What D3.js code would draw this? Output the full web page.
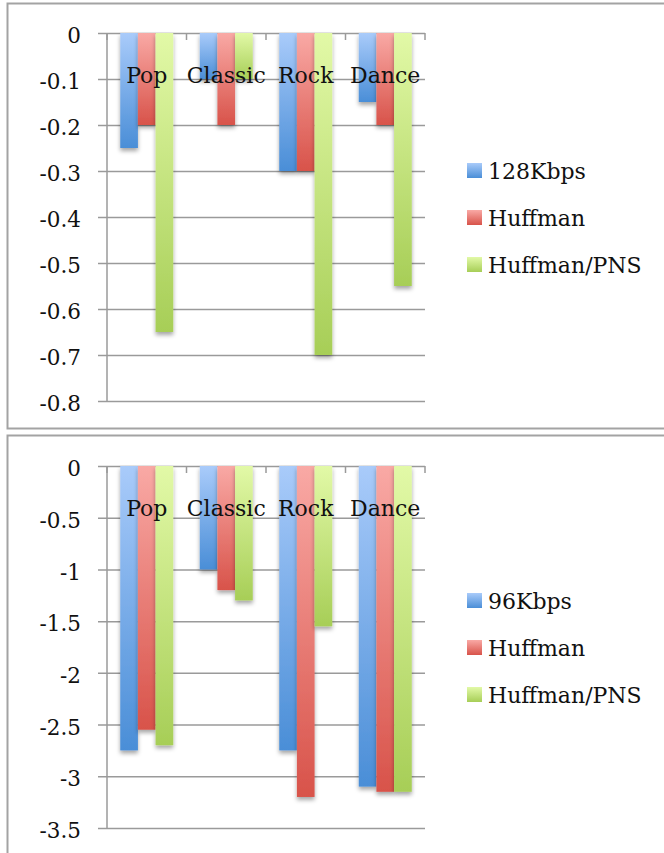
<!DOCTYPE html>
<html>
<head>
<meta charset="utf-8">
<script src="https://cdn.jsdelivr.net/npm/d3@7"></script>
<style>
  html, body { margin: 0; padding: 0; background: #fff; }
  svg { display: block; }
  text { font-family: "DejaVu Serif", "Liberation Serif", serif; fill: #111; }
</style>
</head>
<body>
<svg id="chart" width="664" height="853"></svg>
<script>
// Categories and series shared by both panels
const categories = ["Pop", "Classic", "Rock", "Dance"];
const seriesKeys = ["rate", "huffman", "pns"];

// Panel 1: 128Kbps
const topSeriesNames = ["128Kbps", "Huffman", "Huffman/PNS"];
const top128 = [-0.25, -0.1, -0.3, -0.15];
const topHuffman = [-0.2, -0.2, -0.3, -0.2];
const topPns = [-0.65, -0.1, -0.7, -0.55];
const topTicks = [0, -0.1, -0.2, -0.3, -0.4, -0.5, -0.6, -0.7, -0.8];

// Panel 2: 96Kbps
const bottomSeriesNames = ["96Kbps", "Huffman", "Huffman/PNS"];
const bottom96 = [-2.75, -1.0, -2.75, -3.1];
const bottomHuffman = [-2.55, -1.2, -3.2, -3.15];
const bottomPns = [-2.7, -1.3, -1.55, -3.15];
const bottomTicks = [0, -0.5, -1, -1.5, -2, -2.5, -3, -3.5];

const svg = d3.select("#chart");
const defs = svg.append("defs");

const gradientStops = {
  rate:    ["#a9cbfa", "#4a8ed7"],
  huffman: ["#f9a9a5", "#d8534a"],
  pns:     ["#e2f9a7", "#a7ce57"]
};
Object.entries(gradientStops).forEach(([k, [c0, c1]]) => {
  const g = defs.append("linearGradient")
    .attr("id", "grad-" + k)
    .attr("x1", 0).attr("y1", 0).attr("x2", 0).attr("y2", 1);
  g.append("stop").attr("offset", "0%").attr("stop-color", c0);
  g.append("stop").attr("offset", "100%").attr("stop-color", c1);
});

const shadow = defs.append("filter").attr("id", "barShadow")
  .attr("x", "-30%").attr("y", "-10%").attr("width", "160%").attr("height", "130%");
shadow.append("feDropShadow")
  .attr("dx", 0).attr("dy", 3).attr("stdDeviation", 2)
  .attr("flood-color", "#000").attr("flood-opacity", 0.35);

function drawPanel(cfg) {
  const g = svg.append("g");

  // panel frame
  g.append("rect")
    .attr("x", 7.5).attr("y", cfg.frameTop)
    .attr("width", 700).attr("height", cfg.frameHeight)
    .attr("fill", "none").attr("stroke", "#a3a3a3").attr("stroke-width", 2);

  const y = d3.scaleLinear().domain([0, cfg.min]).range([cfg.plotTop, cfg.plotBottom]);
  const x = d3.scaleBand().domain(categories).range([107, 425]).paddingInner(0).paddingOuter(0);
  const barW = x.bandwidth() / 4.5;
  const xs = d3.scaleBand().domain(seriesKeys)
    .range([barW * 0.75, barW * 3.75]);

  // gridlines with outward ticks; labels use a plain hyphen for negatives
  const yAxis = d3.axisLeft(y).tickValues(cfg.ticks).tickSize(-(425 - 107))
    .tickFormat(d => String(d));
  const ya = g.append("g").attr("transform", "translate(107,0)").call(yAxis);
  ya.select(".domain").remove();
  ya.selectAll(".tick line")
    .attr("x1", -9).attr("stroke", "#9a9a9a").attr("stroke-width", 1.5);
  ya.selectAll(".tick text")
    .attr("x", -26).attr("dy", "0.45em")
    .style("font-family", "'DejaVu Serif', serif").style("font-size", "21.5px").attr("fill", "#111");

  // vertical value axis line
  g.append("line")
    .attr("x1", 107).attr("x2", 107).attr("y1", y(0)).attr("y2", y(cfg.min))
    .attr("stroke", "#9a9a9a").attr("stroke-width", 1.5);

  // category tick marks along the zero line
  const xAxis = d3.axisBottom(x).tickSize(0).tickFormat("");
  const xa = g.append("g").attr("transform", `translate(0,${y(0)})`).call(xAxis);
  xa.select(".domain").remove();
  const boundaries = categories.map(c => x(c)).concat([x(categories[categories.length - 1]) + x.bandwidth()]);
  g.selectAll(".cattick").data(boundaries).join("line")
    .attr("x1", d => d).attr("x2", d => d)
    .attr("y1", y(0)).attr("y2", y(0) + 7)
    .attr("stroke", "#9a9a9a").attr("stroke-width", 1.5);

  // bars
  const rows = categories.map((c, i) => ({
    cat: c,
    vals: seriesKeys.map((k, j) => ({ key: k, value: cfg.values[j][i] }))
  }));
  const grp = g.selectAll(".grp").data(rows).join("g")
    .attr("transform", d => `translate(${x(d.cat)},0)`);
  grp.selectAll("rect").data(d => d.vals).join("rect")
    .attr("x", d => xs(d.key))
    .attr("width", xs.bandwidth())
    .attr("y", y(0))
    .attr("height", d => y(d.value) - y(0))
    .attr("fill", d => `url(#grad-${d.key})`)
    .attr("filter", "url(#barShadow)");

  // category labels inside the plot
  g.selectAll(".catlabel").data(categories).join("text")
    .attr("x", d => x(d) + x.bandwidth() / 2)
    .attr("y", y(0) + 50)
    .attr("text-anchor", "middle")
    .style("font-size", "22px")
    .text(d => d);

  // legend
  const lg = g.selectAll(".leg").data(seriesKeys).join("g")
    .attr("transform", (d, i) => `translate(467,${cfg.legendTop + i * 47})`);
  lg.append("rect").attr("x", 0).attr("y", -8).attr("width", 15).attr("height", 15)
    .attr("fill", d => `url(#grad-${d})`);
  lg.append("text").attr("x", 21).attr("y", 0).attr("dy", "0.36em")
    .style("font-size", "22px")
    .text((d, i) => cfg.names[i]);
}

drawPanel({
  frameTop: 3.5, frameHeight: 425,
  plotTop: 33, plotBottom: 401, min: -0.8, ticks: topTicks,
  values: [top128, topHuffman, topPns], names: topSeriesNames,
  legendTop: 171
});

drawPanel({
  frameTop: 435.5, frameHeight: 500,
  plotTop: 466, plotBottom: 828, min: -3.5, ticks: bottomTicks,
  values: [bottom96, bottomHuffman, bottomPns], names: bottomSeriesNames,
  legendTop: 601
});
</script>
</body>
</html>
